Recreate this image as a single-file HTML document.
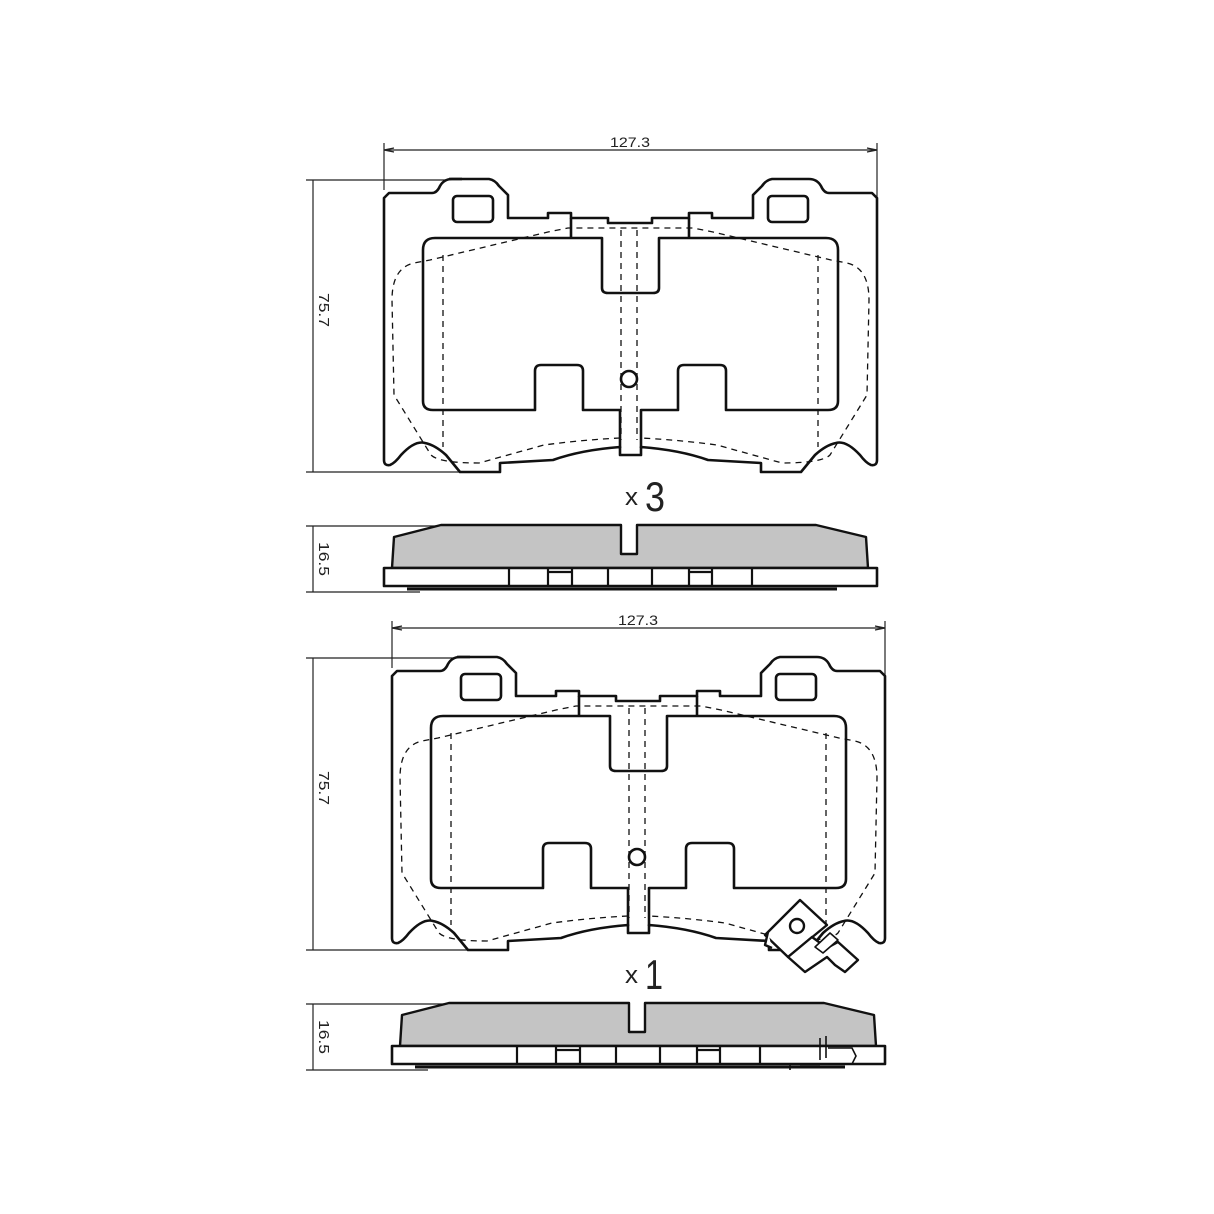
<!DOCTYPE html>
<html><head><meta charset="utf-8"><style>
html,body{margin:0;padding:0;background:#fff;}
svg{display:block;}
text{font-family:"Liberation Sans",sans-serif;fill:#222;}
</style></head><body>
<svg width="1214" height="1214" viewBox="0 0 1214 1214" xmlns="http://www.w3.org/2000/svg">
<defs>
<g id="pad" fill="none" stroke="#111" stroke-linejoin="round">
  <path stroke-width="2.6" d="M384 460 L384 198 L389 193 L432 193 Q437 193 440 186 Q444 179 452 179 L489 179 Q495 180 499 186 L508 195 L508 218 L548 218 L548 213 L571 213 L571 218 L608 218 L608 223 L652 223 L652 218 L689 218 L689 213 L712 213 L712 218 L753 218 L753 195 L762 186 Q766 180 772 179 L809 179 Q817 179 821 186 Q824 193 829 193 L872 193 L877 198 L877 460 Q877 466 871 465 Q866 463 860 455 Q846 440 836 443 Q826 445 815 455 L801 472 L761 472 L761 463 L708 460 Q680 450 641 447 L641 455 L620 455 L620 447 Q581 450 553 460 L500 463 L500 472 L460 472 L446 455 Q435 445 425 443 Q415 440 401 455 Q395 463 390 465 Q384 466 384 460 Z"/>
  <path stroke-width="2.6" d="M571 218 L571 238 M689 218 L689 238"/>
  <path stroke-width="2.6" d="M620 448 L620 410 L583 410 L583 371 Q583 365 577 365 L541 365 Q535 365 535 371 L535 410 L433 410 Q423 410 423 401 L423 250 Q423 238 435 238 L602 238 L602 288 Q602 293 608 293 L653 293 Q659 293 659 288 L659 238 L826 238 Q838 238 838 250 L838 401 Q838 410 828 410 L726 410 L726 371 Q726 365 720 365 L684 365 Q678 365 678 371 L678 410 L641 410 L641 448"/>
  <path stroke-width="2.6" d="M449 179 L462 179"/>
  <rect x="453" y="196" width="40" height="26" rx="4" stroke-width="2.6"/>
  <rect x="768" y="196" width="40" height="26" rx="4" stroke-width="2.6"/>
  <g stroke-width="1.3" stroke-dasharray="6,5">
    <path d="M620 438 Q581 440 544 445 L479 463 Q439 463 431 455 L394 395 L392 300 Q392 268 414 263 L430 260 L548 232 L568 228 L693 228 L713 232 L831 260 L847 263 Q869 268 869 300 L867 395 L830 455 Q822 463 782 463 L717 445 Q680 440 641 438"/>
    <path d="M443 255 L443 447 M818 255 L818 447 M621 230 L621 440 M637 230 L637 440"/>
  </g>
  <circle cx="629" cy="379" r="8" stroke-width="2.6" fill="#fff"/>
</g>
<g id="side" stroke="#111" stroke-linejoin="round">
  <path fill="#c4c4c4" stroke-width="2.4" d="M392 568 L394 537 L441 525 L621 525 L621 554 L637 554 L637 525 L816 525 L866 537 L868 568 Z"/>
  <rect x="384" y="568" width="493" height="18" fill="#fff" stroke-width="2.6"/>
  <path fill="none" stroke-width="2.2" d="M509 568 L509 586 M548 568 L548 586 M572 568 L572 586 M608 568 L608 586 M652 568 L652 586 M689 568 L689 586 M712 568 L712 586 M752 568 L752 586 M548 572 L572 572 M689 572 L712 572"/>
  <path stroke-width="3" d="M407 589 L837 589"/>
</g>
</defs>

<!-- TOP -->
<g stroke="#222" stroke-width="1.2" fill="none">
  <path d="M384 143 L384 190 M877 143 L877 198 M384 150 L877 150"/>
  <path d="M384 150 L394 148 M384 150 L394 152 M877 150 L867 148 M877 150 L867 152"/>
  <path d="M306 180 L448 180 M306 472 L460 472 M313 180 L313 472"/>
  <path d="M306 526 L441 526 M306 592 L420 592 M313 526 L313 592"/>
</g>
<text x="630" y="147" font-size="14" text-anchor="middle" textLength="40" lengthAdjust="spacingAndGlyphs">127.3</text>
<text transform="translate(319,293) rotate(90)" font-size="15" textLength="34" lengthAdjust="spacingAndGlyphs">75.7</text>
<text transform="translate(319,542) rotate(90)" font-size="15" textLength="34" lengthAdjust="spacingAndGlyphs">16.5</text>
<use href="#pad"/>
<text x="625" y="505" font-size="24" textLength="13" lengthAdjust="spacingAndGlyphs">x</text>
<text x="645" y="511" font-size="42" textLength="20" lengthAdjust="spacingAndGlyphs">3</text>
<use href="#side"/>

<!-- BOTTOM -->
<g stroke="#222" stroke-width="1.2" fill="none">
  <path d="M392 621 L392 668 M885 621 L885 676 M392 628 L885 628"/>
  <path d="M392 628 L402 626 M392 628 L402 630 M885 628 L875 626 M885 628 L875 630"/>
  <path d="M306 658 L456 658 M306 950 L468 950 M313 658 L313 950"/>
  <path d="M306 1004 L449 1004 M306 1070 L428 1070 M313 1004 L313 1070"/>
</g>
<text x="638" y="625" font-size="14" text-anchor="middle" textLength="40" lengthAdjust="spacingAndGlyphs">127.3</text>
<text transform="translate(319,771) rotate(90)" font-size="15" textLength="34" lengthAdjust="spacingAndGlyphs">75.7</text>
<text transform="translate(319,1020) rotate(90)" font-size="15" textLength="34" lengthAdjust="spacingAndGlyphs">16.5</text>
<g transform="translate(8,478)">
  <use href="#pad"/>
  <use href="#side"/>
</g>
<text x="625" y="983" font-size="24" textLength="13" lengthAdjust="spacingAndGlyphs">x</text>
<text x="645" y="989" font-size="42" textLength="18" lengthAdjust="spacingAndGlyphs">1</text>

<!-- sensor -->
<g fill="#fff" stroke="#111" stroke-width="2.4" stroke-linejoin="round">
  <path d="M800 900 L827 925 L788 957 L765 935 Z"/>
  <path d="M768 932 L765 945 L772 948"/>
  <circle cx="797" cy="926" r="7"/>
  <path d="M788 957 L805 972 L827 957 L835 965 L845 972 L858 960 L838 942 L827 948 L812 937 Z"/>
  <path d="M815 947 L830 933 L838 940 L823 953 Z" stroke-width="1.6"/>
</g>
<g fill="none" stroke="#111" stroke-width="1.6">
  <path d="M820 1038 L820 1060 M826 1036 L826 1058 M828 1048 L852 1048 L856 1056 L852 1064 L828 1064"/>
  <path d="M776 1064 L790 1064 L790 1070 M800 1066 L820 1066"/>
</g>
</svg>
</body></html>
